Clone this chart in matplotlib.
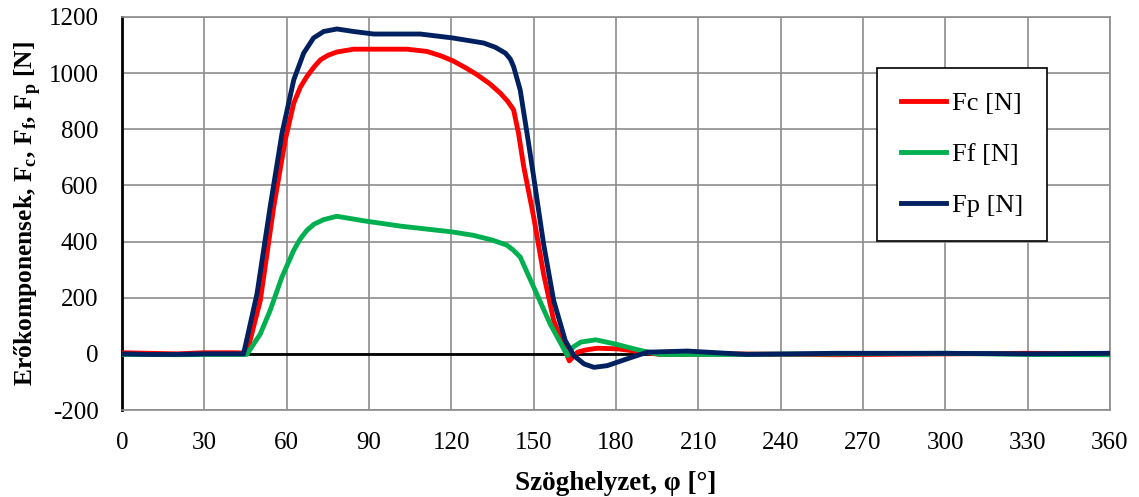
import numpy as np
import matplotlib.pyplot as plt

plt.rcParams['font.family'] = ['Liberation Serif', 'DejaVu Serif']
plt.rcParams['mathtext.fontset'] = 'custom'
plt.rcParams['mathtext.rm'] = 'Liberation Serif'
plt.rcParams['mathtext.bf'] = 'Liberation Serif:bold'
plt.rcParams['axes.unicode_minus'] = False

# Fc - cutting force
fc_x = [0, 10, 20, 30, 40, 45.5, 50.4, 55.3, 59.5, 62.6, 65, 67.4, 70, 72.3, 75, 78.3,
        84.4, 95, 103.9, 111.1, 116, 120.5, 125, 129.4, 134, 137.9, 140.5, 142.7,
        144.5, 146.4, 150, 153.6, 157.3, 161.5, 163, 166, 169, 173.2, 180.5, 190,
        196, 220, 260, 300, 330, 360]
fc_y = [4, 2, 0, 4, 4, 3, 190, 524, 762, 893, 950, 988, 1022, 1047, 1063, 1075,
        1085, 1085, 1085, 1077, 1062, 1044, 1020, 994, 962, 928, 900, 869,
        785, 666, 488, 286, 119, 12, -25, 6, 14, 20, 18, 6,
        -2, 0, -3, 0, 2, 0]

# Ff - feed force
ff_x = [0, 10, 20, 30, 40, 45.5, 50.4, 54, 58.3, 62.6, 65, 67.4, 70, 73.5, 78.3, 88,
        101.4, 120.5, 128.1, 135, 140.3, 142.5, 145.1, 150, 156, 162.3, 164.5,
        167.2, 172.6, 179.3, 189, 196, 220, 260, 300, 330, 360]
ff_y = [-2, -2, -3, -2, -2, -2, 71, 155, 274, 369, 410, 440, 462, 478, 490, 474,
        455, 434, 422, 405, 387, 370, 345, 238, 107, -6, 25,
        42, 50, 36, 12, -2, -2, 0, 2, -2, -3]

# Fp - passive force
fp_x = [0, 10, 20, 30, 40, 44.3, 49.2, 54, 58.3, 62.6, 66.2, 69.8, 73.5, 78.3, 84.4,
        91.7, 108.7, 120.5, 131.8, 136, 139.7, 141.5, 142.7, 145.1, 147.6, 150,
        153.6, 157.3, 161.5, 164.6, 168.4, 172, 176.8, 184, 191.4, 205.9, 227.6,
        260, 300, 330, 360]
fp_y = [0, -2, -2, 0, 0, 0, 214, 524, 785, 976, 1071, 1125, 1148, 1157, 1148,
        1139, 1139, 1125, 1107, 1092, 1071, 1050, 1023, 940, 785, 631,
        393, 190, 48, -6, -36, -48, -42, -18, 6, 10, -2,
        2, 2, 0, 2]

x_ticks = np.arange(0, 361, 30)
y_ticks = np.arange(-200, 1201, 200)

fig = plt.figure(figsize=(11.39, 4.97), dpi=100)
ax = fig.add_axes([0.1071, 0.175, 0.8674, 0.791])

ax.plot(fc_x, fc_y, color='#FF0000', lw=3.5, label='Fc [N]', zorder=3)
ax.plot(ff_x, ff_y, color='#00B050', lw=3.5, label='Ff [N]', zorder=3)
ax.plot(fp_x, fp_y, color='#002060', lw=3.5, label='Fp [N]', zorder=4)
ax.axhline(0, color='black', lw=2, zorder=2)

ax.set_xlim(0, 360)
ax.set_ylim(-200, 1200)
ax.set_xticks(x_ticks)
ax.set_yticks(y_ticks)
ax.tick_params(length=0, labelsize=18)
ax.tick_params(axis='x', pad=16)
ax.tick_params(axis='y', pad=17)
ax.grid(True, color='#8c8c8c', lw=1.2)
ax.set_axisbelow(True)
for s in ['top', 'right', 'bottom']:
    ax.spines[s].set_color('#8c8c8c')
    ax.spines[s].set_linewidth(1.2)
ax.spines['left'].set_color('black')
ax.spines['left'].set_linewidth(2)

ax.set_xlabel('Szöghelyzet, φ [°]', fontsize=19.5, fontweight='bold', labelpad=12)
ax.set_ylabel(r'Erőkomponensek, F$_\mathbf{c}$, F$_\mathbf{f}$, F$_\mathbf{p}$ [N]',
              fontsize=18.4, fontweight='bold', labelpad=4)

leg = ax.legend(loc='center', bbox_to_anchor=(0.754, 0.445, 0.193, 0.41),
                fontsize=19, frameon=True, fancybox=False, edgecolor='black',
                framealpha=1, labelspacing=1.05, handlelength=1.7, handletextpad=0.25,
                borderpad=0.9, borderaxespad=0)
leg.get_frame().set_linewidth(1.2)

fig.savefig('out.png', dpi=100)
